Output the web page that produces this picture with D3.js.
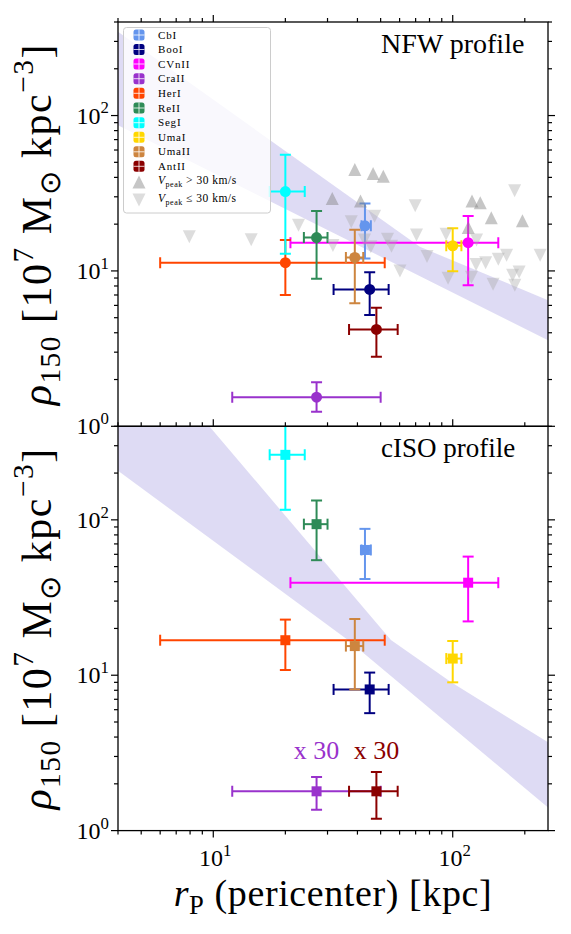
<!DOCTYPE html>
<html>
<head>
<meta charset="utf-8">
<script src="https://cdn.jsdelivr.net/npm/d3@7"></script>
<style>
  body { margin: 0; background: #fff; }
  svg { display: block; font-family: "Liberation Serif", "Times New Roman", serif; }
</style>
</head>
<body>
<svg id="chart"></svg>
<script>
// galaxies, in legend order
var galaxies = ["CbI", "BooI", "CVnII", "CraII", "HerI", "ReII", "SegI", "UmaI", "UmaII", "AntII"];
var colors = ["#6495ED", "#000080", "#FF00FF", "#9932CC", "#FF4500", "#2E8B57", "#00FFFF", "#FFD700", "#CD853F", "#8B0000"];

// pericenter (kpc) with lower / upper limits
var rp   = [43,   45,   116, 27,  20,  27,   20,   100,  39,   48];
var rpLo = [41.6, 31.8, 21,  12,  6.0, 23.9, 17.2, 94,   35.8, 36.9];
var rpHi = [45.5, 54,   155, 50,  52,  30,   24.1, 108.7, 42.3, 58.9];

// NFW rho_150 (1e7 Msun/kpc^3)
var nfwRho = [19.5, 7.6, 15.2, 1.54, 11.3, 16.4, 32.4, 14.5, 12.2, 4.2];
var nfwLo  = [12.0, 5.2, 8.1,  1.24, 7.0,  8.9,  12.9, 9.97, 6.2,  2.8];
var nfwHi  = [27.2, 9.8, 22.6, 1.92, 15.8, 24.3, 56,   18.8, 18.4, 5.8];

// cISO rho_150 (CraII and AntII shown x 30)
var isoRho = [64,   8.1,  39.4, 1.79, 16.8, 93.8, 262, 12.8, 15.4, 1.79];
var isoLo  = [41.6, 5.7,  22.2, 1.36, 10.8, 55,   116, 9.0,  8.1,  1.19];
var isoHi  = [87.5, 10.4, 58,   2.21, 22.8, 133,  600, 16.6, 23,   2.38];

// simulated subhaloes
var upR   = [39.0, 46.5, 51.3, 31.4, 41.2, 120.4, 130.3, 144.9, 195.5, 116.1];
var upRho = [44.9, 42.3, 40.7, 29.3, 28.2, 28.2,  27.5,  22.0,  21.0,  19.0];
var downR   = [7.94, 14.4, 22.7, 37.7, 47.2, 69.7, 181.4, 31.6, 42.8, 45.5, 53.4, 55.5, 60.2, 70.6,
               78.1, 93.8, 95.6, 125.8, 125.2, 137.2, 119.8, 147.4, 155.0, 167.9, 177.9, 189.4, 231.8, 181.7];
var downRho = [16.6, 15.9, 19.7, 20.7, 22.5, 26.3, 32.8, 14.6, 15.8, 14.3, 16.0, 14.4, 10.0, 17.0,
               12.4, 17.2, 8.97, 15.8, 11.0, 11.3, 9.11, 8.21, 11.9, 12.6, 9.38, 9.85, 12.6, 8.09];

// shaded bands (edges)
var nfwBandUpR = [4, 72.9, 250],       nfwBandUp = [346, 14.3, 6.48];
var nfwBandLoR = [4, 250],             nfwBandLo = [86.7, 3.58];
var isoBandUpR = [4, 55.2, 98.6, 250], isoBandUp = [1968, 16.85, 9.0, 3.70];
var isoBandLoR = [4, 36.5, 250],       isoBandLo = [207, 16.85, 1.41];

var W = 571, H = 934;
var L = 118, R = 548, T = 22, ph = 404.3;

var svg = d3.select("#chart").attr("width", W).attr("height", H);

var x = d3.scaleLog().domain([4, 250]).range([L, R]);
var yTop = d3.scaleLog().domain([1, 400]).range([T + ph, T]);
var yBot = d3.scaleLog().domain([1, 400]).range([T + 2 * ph, T + ph]);

var defs = svg.append("defs");

function rich(textSel, parts, size) {
    var shift = 0;
    parts.forEach(function (p) {
        var mode = p[1] || 0;
        var target = mode === 1 ? -0.42 * size : mode === -1 ? 0.22 * size : 0;
        textSel.append("tspan")
            .attr("dy", target - shift)
            .attr("font-size", mode ? size * 0.7 : size)
            .attr("font-style", p[2] ? "italic" : null)
            .text(p[0]);
        shift = target;
    });
}

function minorTicks(lo, hi) {
    var out = [];
    for (var e = 0; e <= 3; e++) {
        for (var m = 1; m <= 9; m++) {
            var v = m * Math.pow(10, e);
            if (v >= lo && v <= hi) out.push(v);
        }
    }
    return out;
}

var xMajor = [10, 100];
var xMinor = minorTicks(4, 250).filter(function (v) { return xMajor.indexOf(v) < 0; });
var yMajor = [1, 10, 100];
var yMinor = minorTicks(1, 400).filter(function (v) { return yMajor.indexOf(v) < 0; });

function panel(idx, y, rho, lo, hi, bandUpR, bandUp, bandLoR, bandLo, marker) {
    var top = y.range()[1], bot = y.range()[0];
    var g = svg.append("g");

    defs.append("clipPath").attr("id", "clip" + idx)
        .append("rect").attr("x", L).attr("y", top).attr("width", R - L).attr("height", bot - top);
    var plot = g.append("g").attr("clip-path", "url(#clip" + idx + ")");

    // band
    var pts = [];
    bandUpR.forEach(function (r, i) { pts.push([x(r), y(bandUp[i])]); });
    for (var i = bandLoR.length - 1; i >= 0; i--) pts.push([x(bandLoR[i]), y(bandLo[i])]);
    plot.append("path")
        .attr("d", "M" + pts.join("L") + "Z")
        .attr("fill", "#6A5ACD").attr("fill-opacity", 0.22);

    // error bars
    var cap = 5.5;
    galaxies.forEach(function (name, i) {
        var c = colors[i];
        var eg = plot.append("g").attr("stroke", c).attr("stroke-width", 2).attr("fill", "none");
        var cx = x(rp[i]), cy = y(rho[i]);
        eg.append("line").attr("x1", x(rpLo[i])).attr("x2", x(rpHi[i])).attr("y1", cy).attr("y2", cy);
        eg.append("line").attr("x1", cx).attr("x2", cx).attr("y1", y(lo[i])).attr("y2", y(hi[i]));
        [rpLo[i], rpHi[i]].forEach(function (v) {
            eg.append("line").attr("x1", x(v)).attr("x2", x(v)).attr("y1", cy - cap).attr("y2", cy + cap);
        });
        [lo[i], hi[i]].forEach(function (v) {
            eg.append("line").attr("x1", cx - cap).attr("x2", cx + cap).attr("y1", y(v)).attr("y2", y(v));
        });
        if (marker === "circle") {
            plot.append("circle").attr("cx", cx).attr("cy", cy).attr("r", 5.5).attr("fill", c);
        } else {
            plot.append("rect").attr("x", cx - 5).attr("y", cy - 5).attr("width", 10).attr("height", 10).attr("fill", c);
        }
    });

    // spines
    g.append("rect").attr("x", L).attr("y", top).attr("width", R - L).attr("height", bot - top)
        .attr("fill", "none").attr("stroke", "#000").attr("stroke-width", 1.3);

    // y ticks, left and right, outward
    [[L, -1], [R, 1]].forEach(function (s) {
        var tg = g.append("g").attr("stroke", "#000").attr("stroke-width", 1.2);
        yMajor.forEach(function (v) {
            tg.append("line").attr("x1", s[0]).attr("x2", s[0] + s[1] * 7).attr("y1", y(v)).attr("y2", y(v));
        });
        yMinor.forEach(function (v) {
            tg.append("line").attr("x1", s[0]).attr("x2", s[0] + s[1] * 4).attr("y1", y(v)).attr("y2", y(v));
        });
    });
    // x ticks on top, outward
    var xg = g.append("g").attr("stroke", "#000").attr("stroke-width", 1.2);
    xMajor.forEach(function (v) {
        xg.append("line").attr("x1", x(v)).attr("x2", x(v)).attr("y1", top).attr("y2", top - 7);
    });
    xMinor.forEach(function (v) {
        xg.append("line").attr("x1", x(v)).attr("x2", x(v)).attr("y1", top).attr("y2", top - 4);
    });

    // y tick labels
    ["0", "1", "2"].forEach(function (e, k) {
        var t = g.append("text").attr("x", 109).attr("y", y(yMajor[k]) + 8)
            .attr("text-anchor", "end");
        rich(t, [["10"], [e, 1]], 24);
    });

    // y label
    var yl = g.append("text")
        .attr("transform", "translate(51," + ((top + bot) / 2) + ") rotate(-90)")
        .attr("text-anchor", "middle").attr("letter-spacing", 1.5);
    rich(yl, [["ρ", 0, true], ["150", -1], [" [10"], ["7", 1], [" M"], ["⊙", -1], [" kpc"], ["−3", 1], ["]"]], 42);

    return g;
}

var gTop = panel(0, yTop, nfwRho, nfwLo, nfwHi, nfwBandUpR, nfwBandUp, nfwBandLoR, nfwBandLo, "circle");

// subhaloes on top panel
var tri = 13;
var triG = svg.append("g").attr("clip-path", "url(#clip0)");
upR.forEach(function (r, i) {
    var cx = x(r), cy = yTop(upRho[i]);
    triG.append("path")
        .attr("d", "M" + cx + "," + (cy - tri / 2) + "L" + (cx + tri / 2) + "," + (cy + tri / 2) + "L" + (cx - tri / 2) + "," + (cy + tri / 2) + "Z")
        .attr("fill", "#808080").attr("fill-opacity", 0.45);
});
downR.forEach(function (r, i) {
    var cx = x(r), cy = yTop(downRho[i]);
    triG.append("path")
        .attr("d", "M" + cx + "," + (cy + tri / 2) + "L" + (cx + tri / 2) + "," + (cy - tri / 2) + "L" + (cx - tri / 2) + "," + (cy - tri / 2) + "Z")
        .attr("fill", "#a9a9a9").attr("fill-opacity", 0.4);
});

var gBot = panel(1, yBot, isoRho, isoLo, isoHi, isoBandUpR, isoBandUp, isoBandLoR, isoBandLo, "square");

// panel titles
svg.append("text").attr("x", 381).attr("y", 53).attr("font-size", 28).text("NFW profile");
svg.append("text").attr("x", 381).attr("y", 457).attr("font-size", 27).text("cISO profile");

// x 30 notes
svg.append("text").attr("x", x(rp[3])).attr("y", 759).attr("text-anchor", "middle")
    .attr("font-size", 26).attr("fill", colors[3]).text("x 30");
svg.append("text").attr("x", x(rp[9])).attr("y", 759).attr("text-anchor", "middle")
    .attr("font-size", 26).attr("fill", colors[9]).text("x 30");

// bottom x axis ticks and labels
var yb = yBot.range()[0];
var bx = svg.append("g").attr("stroke", "#000").attr("stroke-width", 1.2);
xMajor.forEach(function (v) {
    bx.append("line").attr("x1", x(v)).attr("x2", x(v)).attr("y1", yb).attr("y2", yb + 7);
});
xMinor.forEach(function (v) {
    bx.append("line").attr("x1", x(v)).attr("x2", x(v)).attr("y1", yb).attr("y2", yb + 4);
});
["1", "2"].forEach(function (e, k) {
    var t = svg.append("text").attr("x", x(xMajor[k]) + 2).attr("y", 866).attr("text-anchor", "middle");
    rich(t, [["10"], [e, 1]], 24);
});
var xl = svg.append("text").attr("x", (L + R) / 2).attr("y", 906).attr("text-anchor", "middle")
    .attr("letter-spacing", 0.6);
rich(xl, [["r", 0, true], ["P", -1], [" (pericenter) [kpc]"]], 38);

// legend
var lg = svg.append("g");
lg.append("rect").attr("x", 123.5).attr("y", 27.5).attr("width", 147).attr("height", 185.5).attr("rx", 3)
    .attr("fill", "#fff").attr("fill-opacity", 0.8).attr("stroke", "#ccc").attr("stroke-width", 1);
var rowY = [35, 49.5, 64, 78.7, 93.3, 108, 122.7, 137.3, 151.8, 166.3];
galaxies.forEach(function (name, i) {
    var cy = rowY[i];
    lg.append("rect").attr("x", 133.5).attr("y", cy - 5.5).attr("width", 11).attr("height", 11).attr("rx", 2.5)
        .attr("fill", colors[i]);
    lg.append("line").attr("x1", 133.5).attr("x2", 144.5).attr("y1", cy).attr("y2", cy).attr("stroke", "#fff").attr("stroke-width", 0.8);
    lg.append("line").attr("x1", 139).attr("x2", 139).attr("y1", cy - 5.5).attr("y2", cy + 5.5).attr("stroke", "#fff").attr("stroke-width", 0.8);
    lg.append("text").attr("x", 158).attr("y", cy + 3.6).attr("font-size", 11).attr("letter-spacing", 0.8).text(name);
});
var lt = 13;
lg.append("path").attr("d", "M139," + (182 - lt / 2) + "L" + (139 + lt / 2) + "," + (182 + lt / 2) + "L" + (139 - lt / 2) + "," + (182 + lt / 2) + "Z")
    .attr("fill", "#808080").attr("fill-opacity", 0.45);
lg.append("path").attr("d", "M139," + (200 + lt / 2) + "L" + (139 + lt / 2) + "," + (200 - lt / 2) + "L" + (139 - lt / 2) + "," + (200 - lt / 2) + "Z")
    .attr("fill", "#a9a9a9").attr("fill-opacity", 0.4);
var v1 = lg.append("text").attr("x", 158).attr("y", 184).attr("letter-spacing", 0.5);
rich(v1, [["V", 0, true], ["peak", -1], [" > 30 km/s"]], 11.5);
var v2 = lg.append("text").attr("x", 158).attr("y", 202).attr("letter-spacing", 0.5);
rich(v2, [["V", 0, true], ["peak", -1], [" ≤ 30 km/s"]], 11.5);
</script>
</body>
</html>
